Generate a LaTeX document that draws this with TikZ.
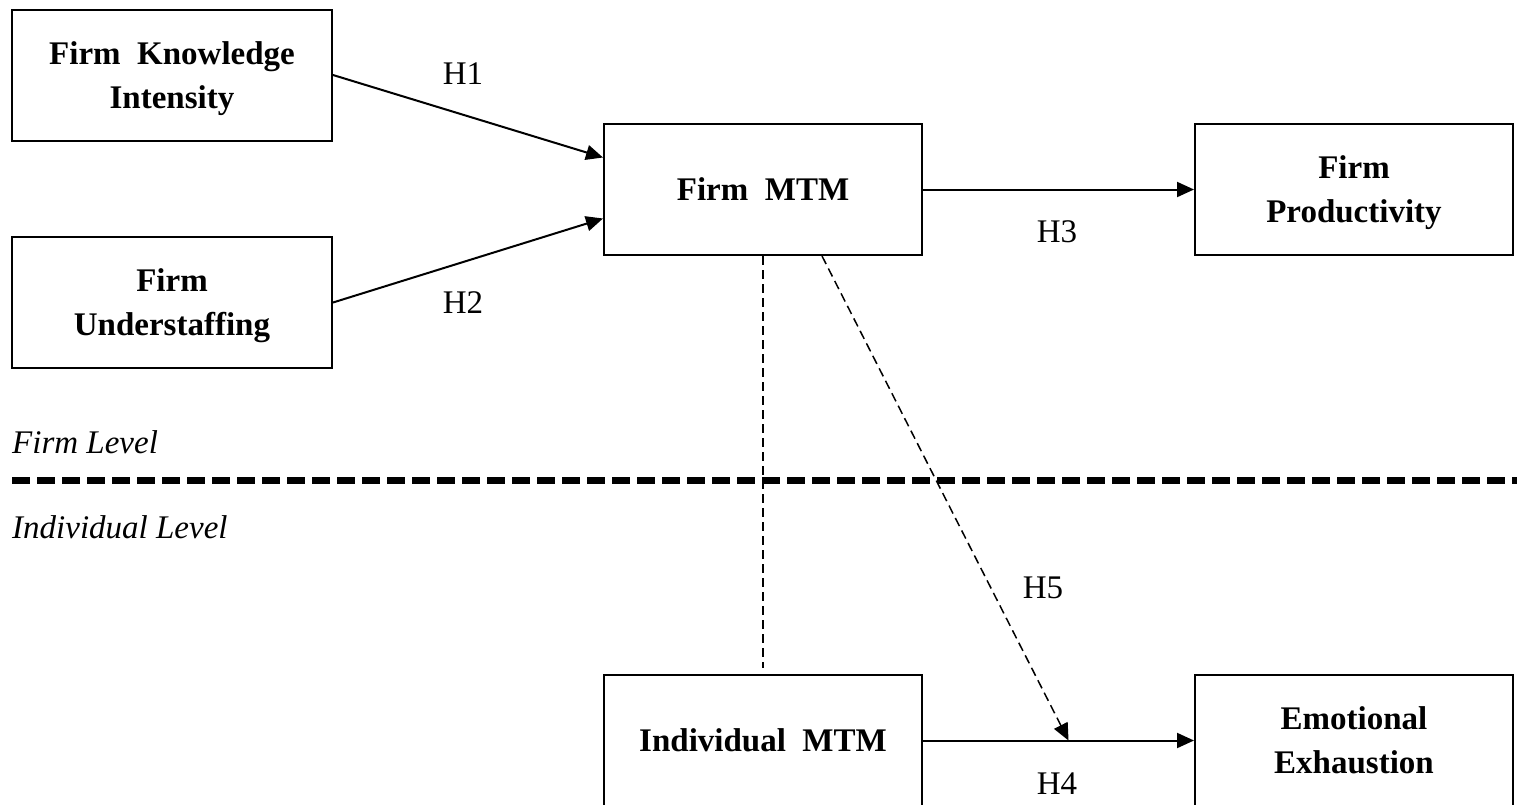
\documentclass[tikz,border=0pt]{standalone}
\usepackage{fontspec}
\setmainfont{Liberation Serif}
\usetikzlibrary{arrows.meta,calc}
\begin{document}
\begin{tikzpicture}[x=1pt,y=-1pt,
  box/.style={draw,line width=2pt,minimum width=318pt,minimum height=131pt,
    align=center,inner sep=0pt,text depth=0pt,
    font=\bfseries\fontsize{33}{44}\selectfont},
  lbl/.style={inner sep=0pt,font=\fontsize{33}{44}\selectfont},
  lvl/.style={inner sep=0pt,anchor=west,font=\itshape\fontsize{33}{44}\selectfont},
  tip/.style={-{Triangle[length=17pt,width=15pt]}},
  link/.style={line width=2pt,tip},
  tie/.style={line width=1.5pt,dash pattern=on 9pt off 5pt},
  sep/.style={line width=7pt,dash pattern=on 18pt off 7pt}]
\useasboundingbox (0,0) rectangle (1517,804);
\clip (0,0) rectangle (1517,804);

% constructs
\node[box,minimum width=320pt] (fki) at (172,75) {Firm\ \ Knowledge\\Intensity};
\node[box,minimum width=320pt] (fus) at (172,302.5) {Firm\\Understaffing};
\node[box] (mtm) at (763,189.5) {Firm\ \ MTM};
\node[box] (fpr) at (1354,189.5) {Firm\\Productivity};
\node[box] (imtm) at (763,740.5) {Individual\ \ MTM};
\node[box] (eex) at (1354,740.5) {Emotional\\Exhaustion};

% hypothesis paths
\draw[link] (fki.east) -- ($(mtm.west)+(0,-32)$);
\draw[link] (fus.east) -- ($(mtm.west)+(0,29)$);
\draw[link] (mtm.east) -- (fpr.west);
\draw[link] (imtm.east) -- (eex.west);

% cross-level links
\coordinate (mod) at ($(imtm.east)!0.537!(eex.west)$);
\coordinate (imtmtop) at ($(imtm.north)+(0,-6)$);
\draw[tie] (mtm.south) -- (imtmtop);
\draw[tie,tip] ($(mtm.south)+(59,0)$) -- (mod);

% path labels
\node[lbl] (h1) at (463,74) {H1};
\node[lbl] (h2) at (463,303) {H2};
\node[lbl] (h3) at (1057,232) {H3};
\node[lbl] (h4) at (1057,784) {H4};
\node[lbl] (h5) at (1043,588) {H5};

% level separator
\coordinate (sepL) at (12,480);
\coordinate (sepR) at (1517,480);
\draw[sep] (sepL) -- (sepR);
\node[lvl] (fl) at (12,442) {Firm Level};
\node[lvl] (il) at (12,527) {Individual Level};
\end{tikzpicture}
\end{document}
